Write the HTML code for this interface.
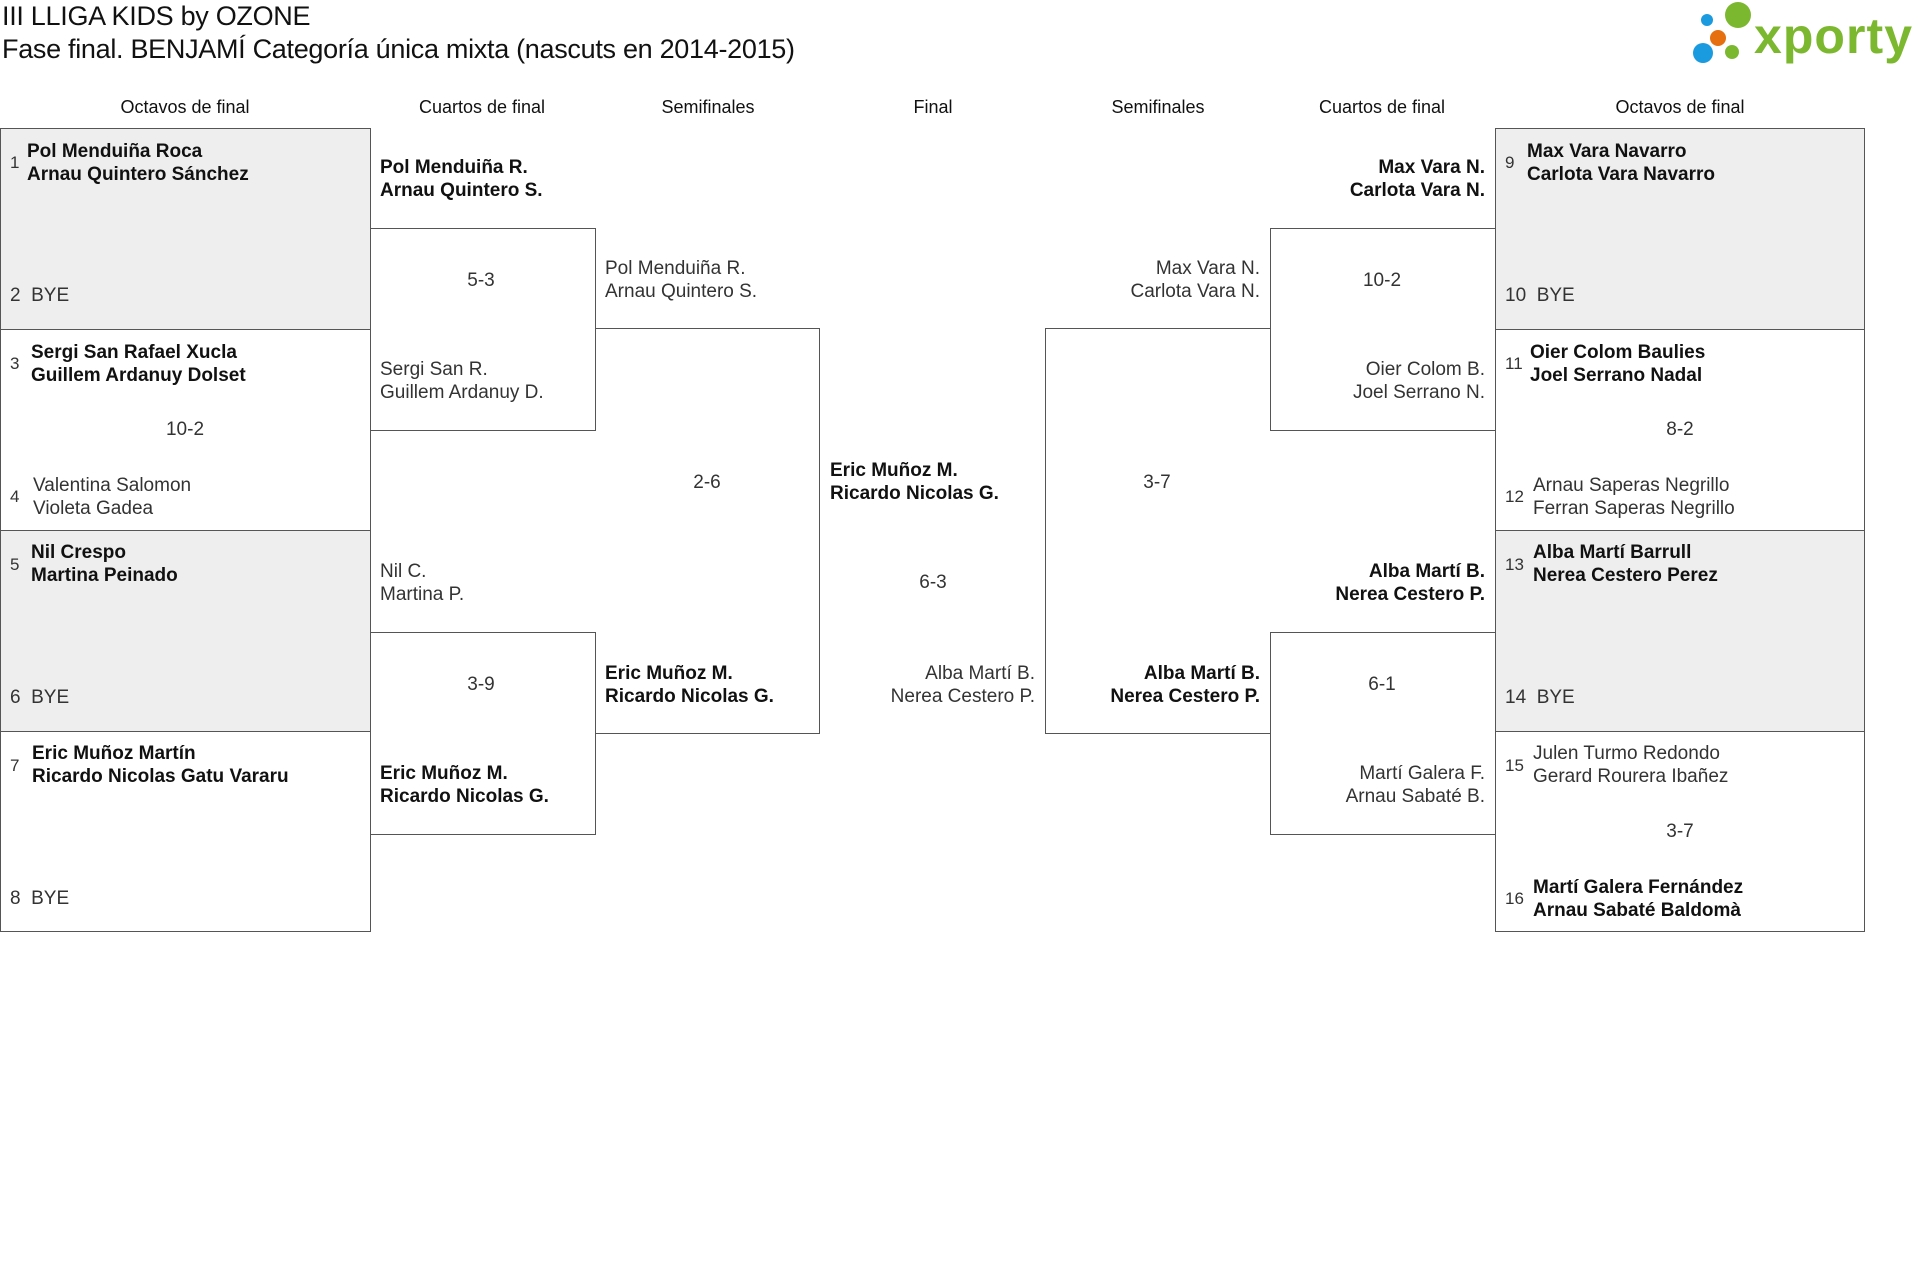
<!DOCTYPE html>
<html><head><meta charset="utf-8"><style>
body{margin:0;width:1920px;height:1265px;background:#fff;position:relative;overflow:hidden;font-family:"Liberation Sans",sans-serif;color:#111}
div{position:absolute}
.t{font-size:27px;left:2px;white-space:nowrap;letter-spacing:-0.3px}
.h{font-size:18px;width:300px;margin-left:-150px;text-align:center;top:97px}
.b{border:1px solid #555;box-sizing:border-box}
.g{background:#eeeeee}
.w{transform:translateY(2px)}
.l{font-size:19px;line-height:23px;white-space:nowrap;margin-top:2px}
.B{font-weight:bold;color:#111}
.L{color:#333}
.n{font-size:17px;color:#333;margin-top:2px}
.c{width:200px;margin-left:-100px;text-align:center;font-size:19px;color:#333;margin-top:2px}
.r{text-align:right;transform:translateX(-100%)}
</style></head><body>
<div class="t" style="top:1px">III LLIGA KIDS by OZONE</div>
<div class="t" style="top:34px">Fase final. BENJAMÍ Categoría única mixta (nascuts en 2014-2015)</div>

<svg style="position:absolute;left:1680px;top:0" width="240" height="75">
<circle cx="27" cy="20" r="6" fill="#1a9be0"/>
<circle cx="58" cy="15" r="13" fill="#7cb82f"/>
<circle cx="38" cy="38" r="8" fill="#e6700f"/>
<circle cx="23" cy="53" r="10" fill="#1a9be0"/>
<circle cx="52" cy="52" r="7" fill="#7cb82f"/>
<text x="74" y="53" font-family="Liberation Sans" font-weight="bold" font-size="50" fill="#7cb82f" textLength="158">xporty</text>
</svg>

<div class="h" style="left:185px">Octavos de final</div>
<div class="h" style="left:482px">Cuartos de final</div>
<div class="h" style="left:708px">Semifinales</div>
<div class="h" style="left:933px">Final</div>
<div class="h" style="left:1158px">Semifinales</div>
<div class="h" style="left:1382px">Cuartos de final</div>
<div class="h" style="left:1680px">Octavos de final</div>

<!-- left R16 -->
<div class="b g" style="left:0;top:128px;width:371px;height:202px"></div>
<div class="b" style="left:0;top:329px;width:371px;height:202px"></div>
<div class="b g" style="left:0;top:530px;width:371px;height:202px"></div>
<div class="b" style="left:0;top:731px;width:371px;height:201px"></div>
<!-- left QF/SF -->
<div class="b" style="left:370px;top:228px;width:226px;height:203px"></div>
<div class="b" style="left:370px;top:632px;width:226px;height:203px"></div>
<div class="b" style="left:595px;top:328px;width:225px;height:406px;border-left:none"></div>
<!-- right -->
<div class="b" style="left:1045px;top:328px;width:226px;height:406px;border-right:none"></div>
<div class="b" style="left:1270px;top:228px;width:226px;height:203px"></div>
<div class="b" style="left:1270px;top:632px;width:226px;height:203px"></div>
<div class="b g" style="left:1495px;top:128px;width:370px;height:202px"></div>
<div class="b" style="left:1495px;top:329px;width:370px;height:202px"></div>
<div class="b g" style="left:1495px;top:530px;width:370px;height:202px"></div>
<div class="b" style="left:1495px;top:731px;width:370px;height:201px"></div>

<!-- left R16 text -->
<div class="n" style="left:10px;top:151px">1</div>
<div class="l B" style="left:27px;top:138px">Pol Menduiña Roca<br>Arnau Quintero Sánchez</div>
<div class="l L" style="left:10px;top:282px">2&nbsp; BYE</div>
<div class="n" style="left:10px;top:352px">3</div>
<div class="l B" style="left:31px;top:339px">Sergi San Rafael Xucla<br>Guillem Ardanuy Dolset</div>
<div class="c" style="left:185px;top:417px">10-2</div>
<div class="n" style="left:10px;top:485px">4</div>
<div class="l L" style="left:33px;top:472px">Valentina Salomon<br>Violeta Gadea</div>
<div class="n" style="left:10px;top:553px">5</div>
<div class="l B" style="left:31px;top:539px">Nil Crespo<br>Martina Peinado</div>
<div class="l L" style="left:10px;top:684px">6&nbsp; BYE</div>
<div class="n" style="left:10px;top:754px">7</div>
<div class="l B" style="left:32px;top:740px">Eric Muñoz Martín<br>Ricardo Nicolas Gatu Vararu</div>
<div class="l L" style="left:10px;top:885px">8&nbsp; BYE</div>

<!-- left QF -->
<div class="l B" style="left:380px;top:154px">Pol Menduiña R.<br>Arnau Quintero S.</div>
<div class="c" style="left:481px;top:268px">5-3</div>
<div class="l L" style="left:380px;top:356px">Sergi San R.<br>Guillem Ardanuy D.</div>
<div class="l L" style="left:380px;top:558px">Nil C.<br>Martina P.</div>
<div class="c" style="left:481px;top:672px">3-9</div>
<div class="l B" style="left:380px;top:760px">Eric Muñoz M.<br>Ricardo Nicolas G.</div>
<!-- left SF -->
<div class="l L" style="left:605px;top:255px">Pol Menduiña R.<br>Arnau Quintero S.</div>
<div class="c" style="left:707px;top:470px">2-6</div>
<div class="l B" style="left:605px;top:660px">Eric Muñoz M.<br>Ricardo Nicolas G.</div>
<!-- final -->
<div class="l B" style="left:830px;top:457px">Eric Muñoz M.<br>Ricardo Nicolas G.</div>
<div class="c" style="left:933px;top:570px">6-3</div>
<div class="l L r" style="left:1035px;top:660px">Alba Martí B.<br>Nerea Cestero P.</div>
<!-- right SF -->
<div class="l L r" style="left:1260px;top:255px">Max Vara N.<br>Carlota Vara N.</div>
<div class="c" style="left:1157px;top:470px">3-7</div>
<div class="l B r" style="left:1260px;top:660px">Alba Martí B.<br>Nerea Cestero P.</div>
<!-- right QF -->
<div class="l B r" style="left:1485px;top:154px">Max Vara N.<br>Carlota Vara N.</div>
<div class="c" style="left:1382px;top:268px">10-2</div>
<div class="l L r" style="left:1485px;top:356px">Oier Colom B.<br>Joel Serrano N.</div>
<div class="l B r" style="left:1485px;top:558px">Alba Martí B.<br>Nerea Cestero P.</div>
<div class="c" style="left:1382px;top:672px">6-1</div>
<div class="l L r" style="left:1485px;top:760px">Martí Galera F.<br>Arnau Sabaté B.</div>

<!-- right R16 -->
<div class="n" style="left:1505px;top:151px">9</div>
<div class="l B" style="left:1527px;top:138px">Max Vara Navarro<br>Carlota Vara Navarro</div>
<div class="l L" style="left:1505px;top:282px">10&nbsp; BYE</div>
<div class="n" style="left:1505px;top:352px">11</div>
<div class="l B" style="left:1530px;top:339px">Oier Colom Baulies<br>Joel Serrano Nadal</div>
<div class="c" style="left:1680px;top:417px">8-2</div>
<div class="n" style="left:1505px;top:485px">12</div>
<div class="l L" style="left:1533px;top:472px">Arnau Saperas Negrillo<br>Ferran Saperas Negrillo</div>
<div class="n" style="left:1505px;top:553px">13</div>
<div class="l B" style="left:1533px;top:539px">Alba Martí Barrull<br>Nerea Cestero Perez</div>
<div class="l L" style="left:1505px;top:684px">14&nbsp; BYE</div>
<div class="n" style="left:1505px;top:754px">15</div>
<div class="l L" style="left:1533px;top:740px">Julen Turmo Redondo<br>Gerard Rourera Ibañez</div>
<div class="c" style="left:1680px;top:819px">3-7</div>
<div class="n" style="left:1505px;top:887px">16</div>
<div class="l B" style="left:1533px;top:874px">Martí Galera Fernández<br>Arnau Sabaté Baldomà</div>
</body></html>
